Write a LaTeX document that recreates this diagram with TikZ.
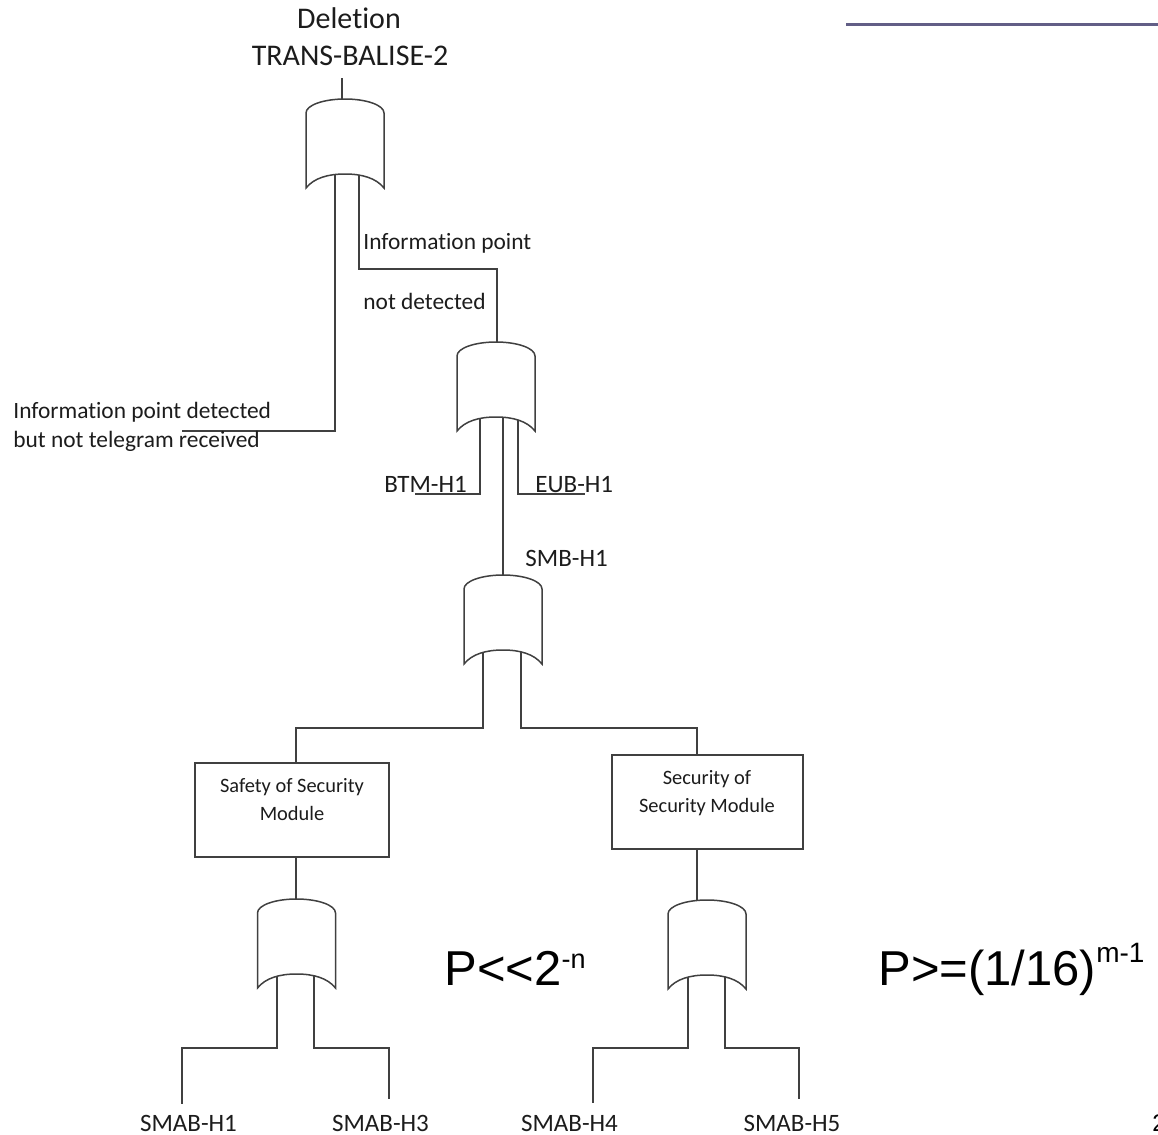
\documentclass[tikz,border=0pt]{standalone}
\usepackage{fontspec}
\setmainfont{Carlito}[Ligatures={NoCommon,NoContextual,NoRequired},RawFeature={-liga;-clig;-calt}]
\newfontfamily\arialfont{Liberation Sans}

\pgfdeclarelayer{wires}
\pgfsetlayers{wires,main}

\definecolor{wirec}{HTML}{404040}
\definecolor{ink}{HTML}{1C1C1C}
\definecolor{rulec}{RGB}{98,94,134}

\tikzset{
  orgate/.pic={
    \path[gateshape] (-39,14) -- (-39,89)
      .. controls (-31,79) and (-17,75) .. (0,75)
      .. controls (17,75) and (31,79) .. (39,89)
      -- (39,14)
      .. controls (39,6) and (21,0) .. (0,0)
      .. controls (-21,0) and (-39,6) .. (-39,14) -- cycle;
  }
}

\begin{document}
\begin{tikzpicture}[x=0.5pt,y=-0.5pt,
  wire/.style={draw=wirec, line width=0.75pt},
  gateshape/.style={draw=wirec, line width=0.75pt, fill=white},
  box/.style={draw=wirec, line width=0.8pt, fill=white, inner sep=0pt},
  titletxt/.style={text=ink, inner sep=0pt, font=\fontsize{15}{18}\selectfont},
  lbl/.style={text=ink, inner sep=0pt, font=\fontsize{11.7}{14}\selectfont},
  pin/.style={text=ink, inner sep=0pt, font=\fontsize{12.5}{14}\selectfont},
  boxtxt/.style={text=ink, inner sep=0pt, align=center, font=\fontsize{10.2}{14.2}\selectfont},
  pexpr/.style={text=black, inner sep=0pt, font=\arialfont\fontsize{24.5}{28}\selectfont},
  rulestyle/.style={draw=rulec, line width=1.5pt}
]
\useasboundingbox (0,0) rectangle (1158,1135);

% header rule
\coordinate (r1) at (846,24);
\coordinate (r2) at (1158,24);
\draw[rulestyle] (r1) -- (r2);

% title
\node[titletxt, anchor=base] (t1) at (349,28) {Deletion};
\node[titletxt, anchor=base] (t2) at (350,65) {TRANS-BALISE-2};
\coordinate (g1top) at (342,78);

% OR gates
\pic (g1) at (345,99) {orgate};
\pic (g2) at (496,342) {orgate};
\pic (g3) at (503,575) {orgate};
\pic (g4) at (296.5,899) {orgate};
\pic (g5) at (707,900) {orgate};

% gate pins (ends hidden under the gate bodies)
\coordinate (g1o) at (342,104);
\coordinate (g1a) at (335,170);
\coordinate (g1b) at (359,170);
\coordinate (g2o) at (497,347);
\coordinate (g2a) at (480,412);
\coordinate (g2b) at (503,412);
\coordinate (g2c) at (518,412);
\coordinate (g3o) at (503,580);
\coordinate (g3a) at (483,645);
\coordinate (g3b) at (521,645);
\coordinate (g4o) at (296,904);
\coordinate (g4a) at (277,970);
\coordinate (g4b) at (314,970);
\coordinate (g5o) at (697,905);
\coordinate (g5a) at (688,970);
\coordinate (g5b) at (725,970);

% bends and free ends
\coordinate (leafA) at (182,431);
\coordinate (j1) at (497,269);
\coordinate (leafBTM) at (415,494);
\coordinate (leafEUB) at (585,494);
\coordinate (j2) at (296,728);
\coordinate (j3) at (697,728);
\coordinate (k1) at (182,1048);
\coordinate (k2) at (389,1048);
\coordinate (k3) at (593,1048);
\coordinate (k4) at (799,1048);
\coordinate (h1) at (182,1104);
\coordinate (h3) at (389,1099);
\coordinate (h4) at (593,1103);
\coordinate (h5) at (799,1099);

% module boxes
\node[box, minimum width=97pt, minimum height=47pt] (b1) at (292,810) {};
\node[box, minimum width=95.5pt, minimum height=47pt] (b2) at (707.5,802) {};
\node[boxtxt, anchor=north] (b1t) at (292,778) {Safety of Security\\Module};
\node[boxtxt, anchor=north] (b2t) at (707,770) {Security of\\Security Module};

% connectors
\begin{pgfonlayer}{wires}
\draw[wire] (g1top) -- (g1o);
\draw[wire] (g1a) |- (leafA);
\draw[wire] (g1b) |- (j1) -- (g2o);
\draw[wire] (g2a) |- (leafBTM);
\draw[wire] (g2c) |- (leafEUB);
\draw[wire] (g2b) -- (g3o);
\draw[wire] (g3a) |- (j2) -- (j2 |- b1.north);
\draw[wire] (g3b) |- (j3) -- (j3 |- b2.north);
\draw[wire] (b1.south -| g4o) -- (g4o);
\draw[wire] (b2.south -| g5o) -- (g5o);
\draw[wire] (g4a) |- (k1) -- (h1);
\draw[wire] (g4b) |- (k2) -- (h3);
\draw[wire] (g5a) |- (k3) -- (h4);
\draw[wire] (g5b) |- (k4) -- (h5);
\end{pgfonlayer}

% labels
\node[lbl, anchor=base west] (ip1) at (363,249) {Information point};
\node[lbl, anchor=base west] (ip2) at (363,309) {not detected};
\node[lbl, anchor=base west] (ipd1) at (13,418) {Information point detected};
\node[lbl, anchor=base west] (ipd2) at (13,447) {but not telegram received};
\node[pin, anchor=base west] (btm) at (384,492) {BTM-H1};
\node[pin, anchor=base west] (eub) at (535,492) {EUB-H1};
\node[pin, anchor=base west] (smb) at (525,566) {SMB-H1};
\node[pin, anchor=base] (s1) at (188.5,1131) {SMAB-H1};
\node[pin, anchor=base] (s3) at (380.5,1131) {SMAB-H3};
\node[pin, anchor=base] (s4) at (569.5,1131) {SMAB-H4};
\node[pin, anchor=base] (s5) at (792,1131) {SMAB-H5};

% probability notes
\node[pexpr, anchor=base west] (p1) at (444,985)
  {P<<2\raisebox{8.5pt}{\fontsize{13.5}{16}\selectfont -n}};
\node[pexpr, anchor=base west] (p2) at (878,985)
  {P>=(1/16)\raisebox{11.5pt}{\fontsize{14}{16}\selectfont m-1}};

% page number at the edge
\node[text=black, inner sep=0pt, anchor=base west,
  font=\arialfont\fontsize{12}{14}\selectfont] (pg) at (1152,1131) {2};
\end{tikzpicture}
\end{document}
